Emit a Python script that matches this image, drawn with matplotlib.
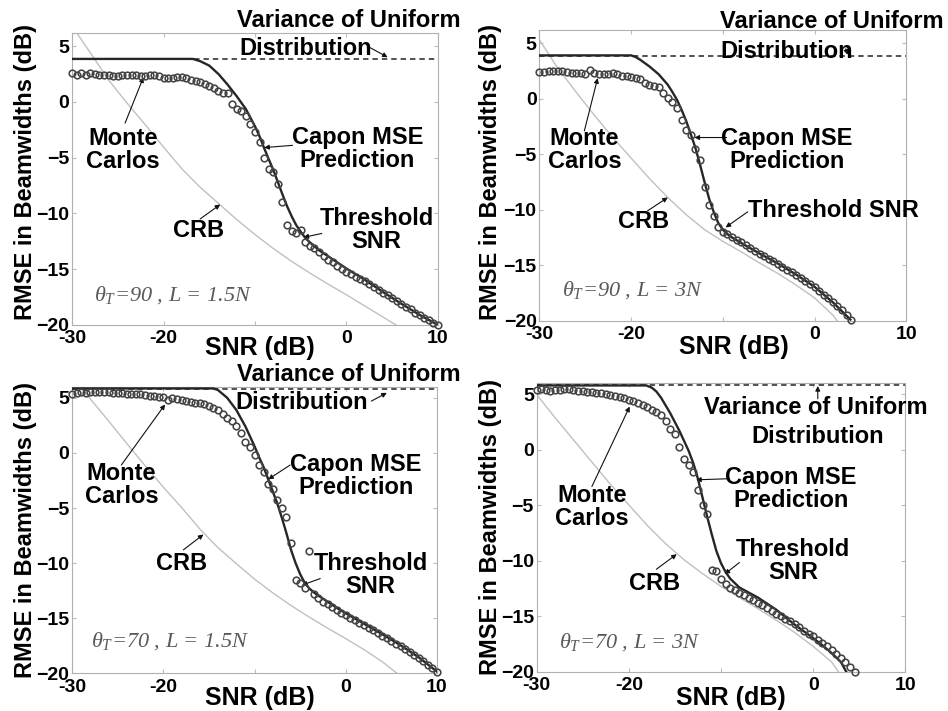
import numpy as np
import matplotlib
matplotlib.use("Agg")
import matplotlib.pyplot as plt

plt.rcParams['font.family'] = ['Liberation Sans', 'DejaVu Sans']
plt.rcParams['font.weight'] = 'bold'
plt.rcParams['axes.labelweight'] = 'bold'
plt.rcParams['mathtext.fontset'] = 'custom'
plt.rcParams['mathtext.it'] = 'Liberation Serif:style=italic:weight=normal'
plt.rcParams['mathtext.rm'] = 'Liberation Serif:weight=normal'

# common SNR grid of the Monte Carlo runs (dB)
snr = np.arange(-30, 10.01, 0.5)

# ---- theta_T = 90, L = 1.5N
mc_90_15 = [2.55, 2.45, 2.55, 2.45, 2.55, 2.5, 2.45, 2.45, 2.4, 2.35,
            2.3, 2.4, 2.45, 2.45, 2.4, 2.35, 2.3, 2.45, 2.45, 2.3,
            2.15, 2.1, 2.1, 2.2, 2.2, 2.1, 2.0, 1.9, 1.75, 1.6,
            1.4, 1.2, 1.0, 0.8, 0.75, -0.2, -0.6, -0.85, -1.3, -2.0,
            -2.7, -3.6, -5.0, -6.0, -6.3, -7.4, -9.0, -11.0, -11.6, -11.8,
            -11.5, -12.6, -12.9, -13.1, -13.5, -13.85, -14.15, -14.4, -14.7, -15.0,
            -15.25, -15.45, -15.7, -15.9, -16.1, -16.35, -16.6, -16.85, -17.1, -17.35,
            -17.6, -17.85, -18.1, -18.35, -18.6, -18.9, -19.15, -19.4, -19.6, -19.8,
            -20.0]
capon_x_90_15 = [-30, -16.8, -16, -15, -14, -13, -12, -11, -10, -9.5, -9, -8.5, -8,
                 -7.5, -7, -6.5, -6, -5.5, -5, -4.5, -4, -3, -2, -1, 0, 2, 4, 6, 8, 10]
capon_90_15 = [3.85, 3.85, 3.65, 3.25, 2.5, 1.55, 0.5, -0.65, -2.2, -3.1, -4.15, -5.15, -6.1,
               -7.2, -8.3, -9.35, -10.25, -11.05, -11.65, -12.2, -12.6, -13.3, -13.85, -14.4,
               -14.95, -15.95, -17.05, -18.1, -19.1, -20.0]
crb_x_90_15 = [-30, -28, -26, -24, -22, -20, -18, -16, -14, -12, -10, -8, -6, -4, -2, 0, 2, 4, 6]
crb_90_15 = [6.8, 4.4, 1.95, -0.1, -2.05, -4.05, -6.0, -7.65, -9.1, -10.55, -11.9, -13.15,
             -14.3, -15.35, -16.35, -17.3, -18.3, -19.3, -20.3]

# ---- theta_T = 90, L = 3N
mc_90_3 = [2.4, 2.4, 2.45, 2.45, 2.45, 2.45, 2.4, 2.35, 2.35, 2.3,
           2.2, 2.55, 2.35, 2.2, 2.25, 2.25, 2.3, 2.2, 2.05, 2.0,
           1.95, 1.85, 1.75, 1.4, 1.25, 1.1, 1.05, 0.5, 0.1, -0.3,
           -0.85, -1.9, -2.8, -3.3, -4.5, -5.55, -8.0, -9.6, -10.6, -11.6,
           -12.0, -12.2, -12.45, -12.7, -12.95, -13.2, -13.45, -13.7, -13.95, -14.2,
           -14.4, -14.65, -14.9, -15.15, -15.4, -15.65, -15.9, -16.15, -16.45, -16.7,
           -17.0, -17.3, -17.65, -17.95, -18.3, -18.65, -19.05, -19.45, -19.95]
capon_x_90_3 = [-30, -20, -19.5, -19, -18, -17, -16, -15.5, -15, -14.5, -14, -13.5, -13,
                -12.5, -12, -11.5, -11, -10.5, -10, -9.5, -9, -8, -6, -4, -2, 0, 2, 3.9]
capon_90_3 = [3.9, 3.9, 3.75, 3.5, 2.9, 2.2, 1.25, 0.6, -0.1, -1.0, -2.0, -3.2, -4.4,
              -5.9, -7.5, -9.0, -10.2, -11.2, -11.8, -12.2, -12.5, -13.0, -13.95, -14.85,
              -15.85, -16.95, -18.35, -19.9]
crb_x_90_3 = [-30, -28, -26, -24, -22, -20, -18, -16, -14, -12, -10, -8, -6, -4, -2, 0, 2, 3]
crb_90_3 = [5.3, 2.75, 0.6, -1.5, -3.5, -5.35, -7.2, -8.9, -10.45, -11.8, -12.85, -13.8,
            -14.8, -15.75, -16.8, -17.95, -19.5, -20.6]

# ---- theta_T = 70, L = 1.5N
mc_70_15 = [5.35, 5.4, 5.5, 5.45, 5.5, 5.55, 5.5, 5.5, 5.5, 5.45,
            5.45, 5.4, 5.35, 5.35, 5.3, 5.3, 5.25, 5.2, 5.15, 5.1,
            5.05, 4.8, 5.0, 4.9, 4.8, 4.7, 4.6, 4.5, 4.55, 4.4,
            4.25, 4.1, 3.85, 3.5, 3.2, 2.9, 2.4, 1.8, 1.0, 0.5,
            -0.2, -1.1, -1.7, -2.8, -3.3, -4.3, -5.0, -5.8, -8.2, -11.5,
            -11.8, -12.3, -8.9, -12.8, -13.2, -13.5, -13.75, -14.0, -14.25, -14.5,
            -14.75, -15.0, -15.2, -15.4, -15.6, -15.85, -16.1, -16.35, -16.6, -16.8,
            -17.05, -17.3, -17.55, -17.8, -18.05, -18.3, -18.6, -18.9, -19.2, -19.5,
            -19.85]
capon_x_70_15 = [-30, -14.5, -14, -13, -12, -11, -10, -9.5, -9, -8.5, -8, -7.5, -7, -6.5,
                 -6, -5.5, -5, -4.5, -4, -3.5, -3, -2, -1, 0, 2, 4, 6, 8, 10]
capon_70_15 = [5.85, 5.85, 5.7, 5.0, 3.9, 2.4, 0.6, -0.4, -1.3, -2.4, -3.5, -4.6, -5.9, -7.3,
               -8.8, -10.0, -11.0, -11.8, -12.3, -12.65, -12.95, -13.5, -14.05, -14.55,
               -15.5, -16.45, -17.45, -18.55, -19.85]
crb_x_70_15 = [-30, -28, -26, -24, -22, -20, -18, -16, -14, -12, -10, -8, -6, -4, -2, 0, 2, 4, 6]
crb_70_15 = [6.8, 4.9, 2.9, 0.85, -1.15, -3.1, -4.95, -6.9, -8.6, -10.05, -11.45, -12.7,
             -13.85, -14.9, -15.9, -16.85, -17.85, -18.95, -20.25]

# ---- theta_T = 70, L = 3N
mc_70_3 = [5.4, 5.45, 5.35, 5.3, 5.35, 5.4, 5.45, 5.5, 5.4, 5.3,
           5.3, 5.25, 5.2, 5.15, 5.1, 5.0, 4.95, 4.85, 4.75, 4.65,
           4.5, 4.4, 4.25, 4.05, 3.85, 3.6, 3.4, 3.1, 2.6, 1.9,
           1.4, 0.3, -0.8, -1.4, -2.0, -3.6, -5.0, -5.75, -10.85, -10.9,
           -11.6, -12.1, -12.4, -12.65, -12.9, -13.1, -13.35, -13.55, -13.75, -14.0,
           -14.25, -14.5, -14.75, -14.95, -15.2, -15.45, -15.7, -15.95, -16.3, -16.55,
           -16.8, -17.1, -17.4, -17.7, -18.0, -18.35, -18.75, -19.15, -19.6, -20.0]
capon_x_70_3 = [-30, -18.1, -17.5, -17, -16.5, -16, -15.5, -15, -14.5, -14, -13.5, -13,
                -12.5, -12, -11.5, -11, -10.5, -10, -9.5, -9, -8.5, -8, -6, -4, -2, 0, 1,
                2, 3, 3.6]
capon_70_3 = [5.8, 5.8, 5.6, 5.25, 4.7, 4.0, 3.3, 2.5, 1.7, 0.8, -0.1, -1.2, -2.6, -4.3,
              -6.0, -7.6, -9.1, -10.2, -11.0, -11.6, -12.0, -12.4, -13.3, -14.4, -15.75,
              -16.95, -17.6, -18.3, -19.1, -20.0]
crb_x_70_3 = [-30, -28, -26, -24, -22, -20, -18, -16, -14, -12, -10, -8, -6, -4, -2, 0, 2, 3]
crb_70_3 = [5.0, 2.9, 0.9, -1.1, -3.1, -4.95, -6.8, -8.45, -9.9, -11.15, -12.3, -13.3,
            -14.3, -15.35, -16.45, -17.7, -19.1, -20.3]

# variance of the uniform distribution (dB)
unif_90 = 3.85
unif_70 = 5.8

fig = plt.figure(figsize=(9.48, 7.11), dpi=100)

panels = [
    dict(rect=[0.076, 0.543, 0.386, 0.411], ytop=6.2, mc=mc_90_15,
         cap=(capon_x_90_15, capon_90_15), crb=(crb_x_90_15, crb_90_15), unif=unif_90,
         tag=r'$\theta_T$=90 , L = 1.5N', tagxy=(-19.0, -17.3),
         ylab=(26, 172), xlab=(0.514, -0.079),
         notes=[("Variance of Uniform", (0.2, 7.3), None, None),
                ("Distribution", (-4.5, 4.8), (2.6, 4.85), (4.5, 4.0)),
                ("Monte\nCarlos", (-24.4, -4.3), (-24.2, -1.9), (-22.2, 2.2)),
                ("Capon MSE\nPrediction", (1.2, -4.2), (-5.9, -3.9), (-9.0, -4.1)),
                ("Threshold\nSNR", (3.3, -11.5), (-2.7, -11.8), (-4.7, -12.15)),
                ("CRB", (-16.2, -11.5), (-16.0, -10.5), (-13.8, -9.2))]),
    dict(rect=[0.569, 0.549, 0.387, 0.409], ytop=6.2, mc=mc_90_3,
         cap=(capon_x_90_3, capon_90_3), crb=(crb_x_90_3, crb_90_3), unif=unif_90,
         tag=r'$\theta_T$=90 , L = 3N', tagxy=(-19.8, -17.25),
         ylab=(491, 172), xlab=(0.53, -0.089),
         notes=[("Variance of Uniform", (1.9, 6.95), None, None),
                ("Distribution", (-3.0, 4.25), (3.4, 4.5), (3.6, 3.95)),
                ("Monte\nCarlos", (-25.1, -4.6), (-25.1, -2.9), (-23.65, 1.85)),
                ("Capon MSE\nPrediction", (-3.0, -4.6), (-9.6, -3.5), (-13.1, -3.5)),
                ("Threshold SNR", (2.1, -10.1), (-7.3, -10.2), (-9.7, -11.6)),
                ("CRB", (-18.6, -11.1), (-18.2, -10.1), (-16.0, -8.9))]),
    dict(rect=[0.076, 0.053, 0.385, 0.403], ytop=6.0, mc=mc_70_15,
         cap=(capon_x_70_15, capon_70_15), crb=(crb_x_70_15, crb_70_15), unif=unif_70,
         tag=r'$\theta_T$=70 , L = 1.5N', tagxy=(-19.3, -17.1),
         ylab=(26, 530), xlab=(0.515, -0.087),
         notes=[("Variance of Uniform", (0.3, 7.1), None, None),
                ("Distribution", (-4.8, 4.55), (2.8, 4.7), (4.5, 5.45)),
                ("Monte\nCarlos", (-24.6, -2.9), (-24.6, -1.1), (-19.8, 4.4)),
                ("Capon MSE\nPrediction", (1.1, -2.1), (-6.1, -1.1), (-8.5, -2.4)),
                ("Threshold\nSNR", (2.7, -11.1), (-2.8, -11.4), (-4.8, -12.0)),
                ("CRB", (-18.0, -10.0), (-17.8, -8.8), (-15.6, -7.4))]),
    dict(rect=[0.566, 0.055, 0.389, 0.406], ytop=6.0, mc=mc_70_3,
         cap=(capon_x_70_3, capon_70_3), crb=(crb_x_70_3, crb_70_3), unif=unif_70,
         tag=r'$\theta_T$=70 , L = 3N', tagxy=(-19.9, -17.3),
         ylab=(490, 527), xlab=(0.526, -0.09),
         notes=[("Variance of Uniform", (0.3, 3.8), None, None),
                ("Distribution", (0.5, 1.2), (0.5, 4.6), (0.5, 5.75)),
                ("Monte\nCarlos", (-24.0, -5.15), (-24.0, -3.3), (-19.9, 3.9)),
                ("Capon MSE\nPrediction", (-2.4, -3.5), (-9.1, -2.6), (-12.7, -2.7)),
                ("Threshold\nSNR", (-2.2, -10.0), (-8.0, -10.15), (-9.6, -11.2)),
                ("CRB", (-17.2, -12.0), (-17.0, -10.75), (-14.8, -9.4))]),
]

W, H = 948, 711
for p in panels:
    ax = fig.add_axes(p['rect'])
    ax.plot(p['crb'][0], p['crb'][1], color='#c0c0c0', lw=1.0, zorder=2)
    ax.plot([-30, 10], [p['unif'], p['unif']], color='#444444', lw=1.3,
            dashes=(3, 2.2), zorder=3)
    ax.plot(p['cap'][0], p['cap'][1], color='#262626', lw=1.7, zorder=4)
    ax.plot(snr[:len(p['mc'])], p['mc'], 'o', ms=4.8, mfc='none', mec='#454545',
            mew=1.15, zorder=5, clip_on=False)

    ax.set_xlim(-30, 10)
    ax.set_ylim(-20, p['ytop'])
    ax.set_xticks([-30, -20, -10, 0, 10])
    ax.set_xticklabels(['-30', '-20', '', '0', '10'])
    ax.set_yticks([-20, -15, -10, -5, 0, 5])
    ax.tick_params(direction='in', length=3, color='#bbbbbb', labelsize=14,
                   top=True, right=True)
    ax.tick_params(axis='y', pad=2)
    ax.tick_params(axis='x', pad=4)
    for s in ax.spines.values():
        s.set_color('#b0b0b0')
        s.set_linewidth(0.8)

    fig.text(p['ylab'][0] / W, 1 - p['ylab'][1] / H, 'RMSE in Beamwidths (dB)',
             rotation=90, ha='center', va='center', fontsize=17, fontweight='bold')
    ax.text(p['xlab'][0], p['xlab'][1], 'SNR (dB)', transform=ax.transAxes,
            ha='center', va='center', fontsize=18, fontweight='bold')

    for txt, xy, a0, a1 in p['notes']:
        ax.text(xy[0], xy[1], txt, ha='center', va='center', fontsize=17,
                fontweight='bold', linespacing=1.0, zorder=6)
        if a0 is not None:
            ax.annotate('', xy=a1, xytext=a0, annotation_clip=False,
                        arrowprops=dict(arrowstyle='-|>', color='#111111', lw=0.8,
                                        mutation_scale=7, shrinkA=0, shrinkB=0))

    ax.text(p['tagxy'][0], p['tagxy'][1], p['tag'], ha='center', va='center',
            fontsize=16, fontstyle='italic', fontweight='normal',
            family='Liberation Serif', color='#5a5a5a')

fig.savefig('out.png', dpi=100)
